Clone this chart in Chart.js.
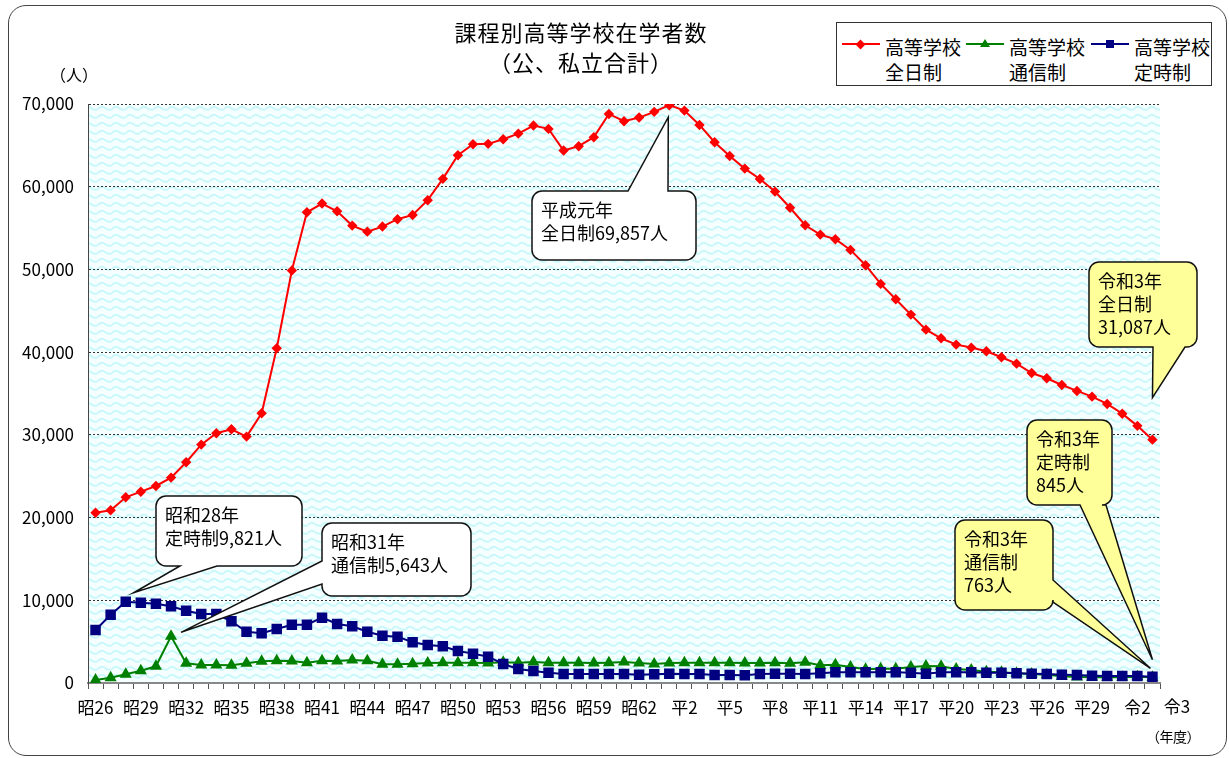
<!DOCTYPE html>
<html lang="ja">
<head>
<meta charset="UTF-8">
<title>課程別高等学校在学者数</title>
<script src="https://cdn.jsdelivr.net/npm/chart.js"></script>
<style>
  body { margin: 0; background: #fff; font-family: "Noto Sans CJK JP", sans-serif; color: #000; }
  #wrap { position: relative; width: 1229px; height: 758px; overflow: hidden; }
  #frame { position: absolute; left: 8px; top: 5px; width: 1219px; height: 751px; border: 1.5px solid #444; border-radius: 18px; box-sizing: border-box; }
  canvas { position: absolute; left: 0; top: 0; }
  .title { position: absolute; left: 381px; top: 16px; width: 400px; text-align: center; font-size: 22px; line-height: 30px; letter-spacing: 1px; }
  .unit { position: absolute; left: 50px; top: 62px; font-size: 16px; line-height: 24px; }
  .nendo { position: absolute; left: 1146px; top: 724px; font-size: 14px; line-height: 24px; letter-spacing: -0.5px; }
  .legend { position: absolute; left: 836px; top: 22px; width: 376px; height: 64px; border: 1px solid #333; box-sizing: border-box; background: #fff; }
  .item { position: absolute; top: 0; height: 100%; }
  .swatch { position: absolute; left: 0; top: 20px; width: 38px; height: 2px; }
  .txt { position: absolute; left: 43px; top: 11px; font-size: 19px; line-height: 25px; white-space: nowrap; }
  .dia { position: absolute; left: 15px; top: -2.5px; width: 7px; height: 7px; background: #ff0000; transform: rotate(45deg); }
  .tri { position: absolute; left: 14px; top: -4px; width: 0; height: 0; border-left: 5px solid transparent; border-right: 5px solid transparent; border-bottom: 8px solid #008000; }
  .sq { position: absolute; left: 15px; top: -3px; width: 8px; height: 8px; background: #000080; }
</style>
</head>
<body>
<div id="wrap">
  <div id="frame"></div>
  <canvas id="chart" width="1229" height="758"></canvas>
  <div class="title">課程別高等学校在学者数<br>（公、私立合計）</div>
  <div class="unit">（人）</div>
  <div class="legend">
    <div class="item" style="left:5px"><span class="swatch" style="background:#ff0000"><i class="dia"></i></span><span class="txt">高等学校<br>全日制</span></div>
    <div class="item" style="left:129px"><span class="swatch" style="background:#008000"><i class="tri"></i></span><span class="txt">高等学校<br>通信制</span></div>
    <div class="item" style="left:254px"><span class="swatch" style="background:#000080"><i class="sq"></i></span><span class="txt">高等学校<br>定時制</span></div>
  </div>
  <div class="nendo">（年度）</div>
</div>

<script>
// 年度 (昭26 .. 令3)
const years = [
  '昭26','昭27','昭28','昭29','昭30','昭31','昭32','昭33','昭34','昭35',
  '昭36','昭37','昭38','昭39','昭40','昭41','昭42','昭43','昭44','昭45',
  '昭46','昭47','昭48','昭49','昭50','昭51','昭52','昭53','昭54','昭55',
  '昭56','昭57','昭58','昭59','昭60','昭61','昭62','昭63','平元','平2',
  '平3','平4','平5','平6','平7','平8','平9','平10','平11','平12',
  '平13','平14','平15','平16','平17','平18','平19','平20','平21','平22',
  '平23','平24','平25','平26','平27','平28','平29','平30','令元','令2',
  '令3'
];
const lastLabel = '令3';

// 全日制
const zennichi = [
  20590, 20880, 22450, 23130, 23820, 24830, 26690, 28820, 30190, 30680,
  29790, 32610, 40470, 49860, 56910, 57960, 57030, 55300, 54570, 55180,
  56070, 56590, 58370, 60950, 63810, 65140, 65180, 65740, 66420, 67390,
  66990, 64370, 64900, 65990, 68800, 67920, 68360, 69050, 69857, 69200,
  67470, 65380, 63720, 62190, 60940, 59410, 57460, 55340, 54210, 53650,
  52360, 50510, 48250, 46390, 44540, 42720, 41680, 40910, 40550, 40110,
  39380, 38610, 37480, 36840, 36030, 35310, 34620, 33740, 32560, 31087,
  29420
];

// 通信制
const tsushin = [
  360, 640, 1050, 1490, 2020, 5643, 2380, 2180, 2180, 2140,
  2380, 2620, 2700, 2660, 2460, 2700, 2660, 2780, 2700, 2260,
  2260, 2340, 2420, 2460, 2460, 2460, 2420, 2500, 2460, 2540,
  2460, 2460, 2460, 2420, 2460, 2540, 2420, 2300, 2420, 2460,
  2460, 2460, 2460, 2420, 2420, 2460, 2380, 2500, 2140, 2220,
  1930, 1650, 1730, 1730, 1930, 2060, 2020, 1690, 1570, 1370,
  1290, 1170, 1090, 1010, 810, 730, 690, 690, 690, 763,
  690
];

// 定時制
const teiji = [
  6410, 8260, 9821, 9710, 9590, 9270, 8740, 8340, 8340, 7460,
  6200, 6010, 6530, 7050, 7050, 7900, 7130, 6860, 6200, 5720,
  5600, 4920, 4590, 4430, 3870, 3550, 3180, 2300, 1690, 1450,
  1250, 1090, 1090, 1090, 1090, 1090, 1000, 1050, 1130, 1090,
  1090, 970, 970, 930, 1090, 1130, 1110, 1090, 1170, 1290,
  1290, 1290, 1290, 1290, 1250, 1130, 1290, 1290, 1290, 1250,
  1250, 1170, 1130, 1090, 1010, 970, 890, 850, 850, 845,
  760
];

const yTicks = [0, 10000, 20000, 30000, 40000, 50000, 60000, 70000];

// 吹き出し
const callouts = [
  { lines: ['平成元年', '全日制69,857人'], fill: '#ffffff', box: [532, 191, 164, 69], side: 'top', base: [628, 668], tip: { data: zennichi, i: 38, dx: -1, dy: 12 } },
  { lines: ['昭和28年', '定時制9,821人'], fill: '#ffffff', box: [156, 496, 146, 70], side: 'bottom', base: [180, 217], tip: { data: teiji, i: 2, dx: 8, dy: -9 } },
  { lines: ['昭和31年', '通信制5,643人'], fill: '#ffffff', box: [322, 523, 149, 73], side: 'left', base: [561, 584], tip: { data: tsushin, i: 5, dx: 10, dy: -4 } },
  { lines: ['令和3年', '全日制', '31,087人'], fill: '#ffff99', box: [1089, 262, 108, 85], side: 'bottom', base: [1153, 1185], tip: { data: zennichi, i: 70, dx: 0, dy: -42 } },
  { lines: ['令和3年', '通信制', '763人'], fill: '#ffff99', box: [955, 520, 98, 90], side: 'right', base: [580, 602], tip: { data: tsushin, i: 70, dx: -2, dy: -9 } },
  { lines: ['令和3年', '定時制', '845人'], fill: '#ffff99', box: [1027, 420, 85, 85], side: 'bottom', base: [1080, 1106], tip: { data: teiji, i: 70, dx: 0, dy: -17 } }
];

Chart.defaults.font.family = '"Noto Sans CJK JP", sans-serif';
Chart.defaults.color = '#000';

function makePattern(ctx) {
  const c = document.createElement('canvas');
  c.width = 14; c.height = 8;
  const p = c.getContext('2d');
  p.fillStyle = '#f6ffff';
  p.fillRect(0, 0, 14, 8);
  p.strokeStyle = '#c8f8fb';
  p.lineWidth = 2;
  p.beginPath();
  p.moveTo(0, 5);
  p.quadraticCurveTo(3.5, 1, 7, 4);
  p.quadraticCurveTo(10.5, 7, 14, 5);
  p.stroke();
  return ctx.createPattern(c, 'repeat');
}

const plotBg = {
  id: 'plotBg',
  beforeDraw(chart) {
    const { ctx, chartArea: a } = chart;
    ctx.save();
    ctx.fillStyle = makePattern(ctx);
    ctx.fillRect(a.left, a.top, a.right - a.left, a.bottom - a.top);
    ctx.restore();
  }
};

function calloutPath(ctx, c, tx, ty) {
  const [x, y, w, h] = c.box, r = 10, [b1, b2] = c.base;
  ctx.beginPath();
  ctx.moveTo(x + r, y);
  if (c.side === 'top') { ctx.lineTo(b1, y); ctx.lineTo(tx, ty); ctx.lineTo(b2, y); }
  ctx.lineTo(x + w - r, y);
  ctx.arcTo(x + w, y, x + w, y + r, r);
  if (c.side === 'right') { ctx.lineTo(x + w, b1); ctx.lineTo(tx, ty); ctx.lineTo(x + w, b2); }
  ctx.lineTo(x + w, y + h - r);
  ctx.arcTo(x + w, y + h, x + w - r, y + h, r);
  if (c.side === 'bottom') { ctx.lineTo(b2, y + h); ctx.lineTo(tx, ty); ctx.lineTo(b1, y + h); }
  ctx.lineTo(x + r, y + h);
  ctx.arcTo(x, y + h, x, y + h - r, r);
  if (c.side === 'left') { ctx.lineTo(x, b2); ctx.lineTo(tx, ty); ctx.lineTo(x, b1); }
  ctx.lineTo(x, y + r);
  ctx.arcTo(x, y, x + r, y, r);
  ctx.closePath();
}

const notes = {
  id: 'notes',
  afterDraw(chart) {
    const { ctx } = chart;
    const xs = chart.scales.x, ys = chart.scales.y;
    ctx.save();
    callouts.forEach(c => {
      const tx = xs.getPixelForValue(c.tip.i) + c.tip.dx;
      const ty = ys.getPixelForValue(c.tip.data[c.tip.i]) + c.tip.dy;
      calloutPath(ctx, c, tx, ty);
      ctx.fillStyle = c.fill;
      ctx.fill();
      ctx.lineWidth = 1.5;
      ctx.lineJoin = 'miter';
      ctx.strokeStyle = '#111';
      ctx.stroke();
      ctx.fillStyle = '#000';
      ctx.font = '18px "Noto Sans CJK JP", sans-serif';
      ctx.textBaseline = 'middle';
      ctx.textAlign = 'left';
      c.lines.forEach((t, k) => ctx.fillText(t, c.box[0] + 9, c.box[1] + 19 + k * 23));
    });
    // 最後の年度ラベル
    ctx.font = '17px "Noto Sans CJK JP", sans-serif';
    ctx.textAlign = 'center';
    ctx.textBaseline = 'middle';
    ctx.fillText(lastLabel, xs.right + 17, xs.top + 24);
    ctx.restore();
  }
};

const chart = new Chart(document.getElementById('chart'), {
  type: 'line',
  data: {
    labels: years,
    datasets: [
      { label: '高等学校 全日制', data: zennichi, borderColor: '#ff0000', backgroundColor: '#ff0000', borderWidth: 2, pointStyle: 'rectRot', pointRadius: 3.8, tension: 0 },
      { label: '高等学校 定時制', data: teiji, borderColor: '#000080', backgroundColor: '#000080', borderWidth: 2, pointStyle: 'rect', pointRadius: 6, tension: 0 },
      { label: '高等学校 通信制', data: tsushin, borderColor: '#008000', backgroundColor: '#008000', borderWidth: 2, pointStyle: 'triangle', pointRadius: 5, tension: 0 }
    ]
  },
  options: {
    responsive: false,
    animation: false,
    layout: { padding: { left: 0, top: 104, right: 69, bottom: 0 } },
    plugins: { legend: { display: false }, title: { display: false }, tooltip: { enabled: false } },
    scales: {
      x: {
        type: 'category',
        offset: true,
        afterFit(s) { s.height = 75; },
        grid: { offset: true, drawOnChartArea: false, tickLength: 6, color: '#555' },
        border: { color: '#888', width: 2 },
        ticks: {
          autoSkip: false, maxRotation: 0, minRotation: 0, padding: 8,
          font: { size: 17 },
          callback(v, i) { return i % 3 === 0 ? years[i] : ''; }
        }
      },
      y: {
        min: yTicks[0], max: yTicks[yTicks.length - 1],
        afterFit(s) { s.width = 88; },
        afterBuildTicks(s) { s.ticks = yTicks.map(v => ({ value: v })); },
        grid: { color: '#333', lineWidth: 1, drawTicks: false },
        border: { color: '#444', width: 1, dash: [2, 2] },
        ticks: {
          padding: 14,
          font: { size: 17 },
          callback(v) { return v.toLocaleString('en-US'); }
        }
      }
    }
  },
  plugins: [plotBg, notes]
});
</script>
</body>
</html>
